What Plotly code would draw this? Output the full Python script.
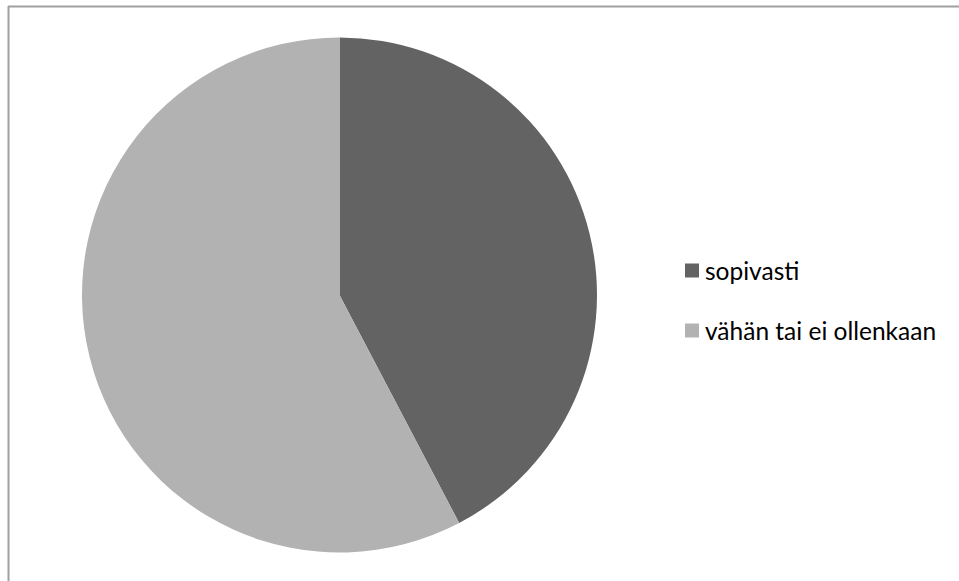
import plotly.graph_objects as go

labels = ["sopivasti", "vähän tai ei ollenkaan"]
values = [11, 15]
colors = ["#636363", "#b2b2b2"]

W, H = 959, 581

fig = go.Figure(go.Pie(
    labels=labels,
    values=values,
    marker=dict(colors=colors, line=dict(width=0)),
    sort=False,
    direction="clockwise",
    rotation=0,
    textinfo="none",
    hoverinfo="label+value+percent",
    showlegend=False,
    domain=dict(x=[82 / W, 597 / W], y=[1 - 553 / H, 1 - 37 / H]),
))

shapes = [
    dict(type="line", xref="paper", yref="paper", x0=8 / W, x1=1, y0=1 - 6.5 / H, y1=1 - 6.5 / H,
         line=dict(color="#a0a0a0", width=2)),
    dict(type="line", xref="paper", yref="paper", x0=8.5 / W, x1=8.5 / W, y0=0, y1=1 - 6 / H,
         line=dict(color="#a0a0a0", width=2)),
]
annotations = []
for i, (lab, col) in enumerate(zip(labels, colors)):
    yc = 270.5 + 60 * i
    shapes.append(dict(type="rect", xref="paper", yref="paper",
                       x0=685 / W, x1=699 / W, y0=1 - (yc + 7) / H, y1=1 - (yc - 7) / H,
                       fillcolor=col, line=dict(width=0)))
    annotations.append(dict(text=lab, xref="paper", yref="paper", x=703 / W, y=1 - yc / H,
                            xanchor="left", yanchor="middle", showarrow=False,
                            font=dict(family="Lato", size=24.5, color="#000000")))

fig.update_layout(
    width=W, height=H,
    margin=dict(l=0, r=0, t=0, b=0),
    paper_bgcolor="white",
    plot_bgcolor="white",
    shapes=shapes,
    annotations=annotations,
)

fig.write_html(
    "out.html",
    config={"displayModeBar": False},
    post_script="document.body.style.margin='0';document.documentElement.style.overflow='hidden';",
)
